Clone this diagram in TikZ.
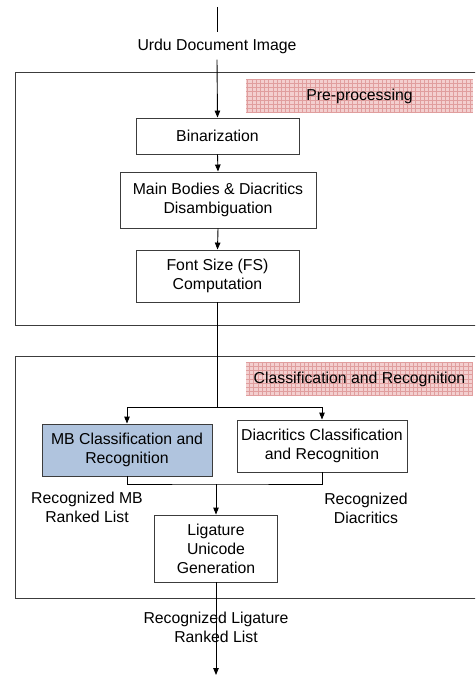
\documentclass[tikz,border=0pt]{standalone}
\usepackage{fontspec}
\setmainfont{Liberation Sans}
\usetikzlibrary{arrows.meta}
\definecolor{boxline}{RGB}{60,60,60}
\definecolor{mbfill}{RGB}{176,196,222}
\definecolor{pinkbg}{RGB}{243,207,207}
\definecolor{pinkgrid}{RGB}{224,158,158}
\tikzset{
  txt/.style={font=\fontsize{15.8}{19}\selectfont, align=center},
  procbox/.style={txt, draw=boxline, line width=0.9pt, fill=white, inner sep=2pt},
  lbl/.style={txt, inner sep=0pt},
  gridlabel/.style={txt, fill=pinkbg, inner sep=0pt,
    path picture={\draw[pinkgrid, line width=0.5pt] (path picture bounding box.south west) grid[step=4.2pt] (path picture bounding box.north east);}},
  arr/.style={line width=0.9pt, -{Triangle[length=7pt,width=5.5pt]}},
  ln/.style={line width=0.9pt},
}
\begin{document}
\begin{tikzpicture}[x=1pt,y=-1pt]
\clip (0,0) rectangle (475,677);
\fill[white] (0,0) rectangle (475,677);
% outer frames
\draw[ln, boxline] (15,72) rectangle (480,325);
\draw[ln, boxline] (15,356) rectangle (480,598);
% labels of frames
\node[gridlabel, minimum width=227pt, minimum height=34pt] (pplabel) at (359.5,96) {Pre-processing};
\node[gridlabel, minimum width=227pt, minimum height=34pt] (crlabel) at (359.5,379) {Classification and Recognition};
% nodes
\coordinate (top) at (217,7);
\node[lbl, inner ysep=6pt] (udi) at (217,46) {Urdu Document Image};
\node[procbox, minimum width=163pt, minimum height=36pt] (bin) at (217.5,136) {Binarization};
\node[procbox, minimum width=196pt, minimum height=56pt] (mbd) at (218,200) {Main Bodies \& Diacritics\\Disambiguation};
\node[procbox, minimum width=163pt, minimum height=52pt] (fs) at (217.5,276) {Font Size (FS)\\Computation};
\coordinate (split) at (217.5,407);
\node[procbox, fill=mbfill, minimum width=170pt, minimum height=52pt] (mb) at (127,450) {MB Classification and\\Recognition};
\node[procbox, minimum width=170pt, minimum height=52pt, inner sep=1pt] (diac) at (322,446) {Diacritics Classification\\and Recognition};
\coordinate (merge) at (216,484);
\node[procbox, minimum width=123pt, minimum height=67pt] (lig) at (216,548.5) {Ligature\\Unicode\\Generation};
\node[lbl] (rmb) at (87,507) {Recognized MB\\Ranked List};
\node[lbl] (rdia) at (366,508) {Recognized\\Diacritics};
\coordinate (bottom) at (216,675);
% connectors
\draw[ln] (top) -- (udi.north);
\draw[arr] (udi.south) -- (bin.north);
\draw[arr] (bin.south) -- (mbd.north);
\draw[arr] (mbd.south) -- (fs.north);
\draw[ln] (fs.south) -- (split);
\draw[arr] (split) -| (mb.north);
\draw[arr] (split) -| (diac.north);
\draw[ln] (mb.south) |- (merge) -| (diac.south);
\draw[arr] (merge) -- (lig.north);
\draw[arr] (lig.south) -- (bottom);
\node[lbl] (rlig) at (216,627) {Recognized Ligature\\Ranked List};
\end{tikzpicture}
\end{document}
